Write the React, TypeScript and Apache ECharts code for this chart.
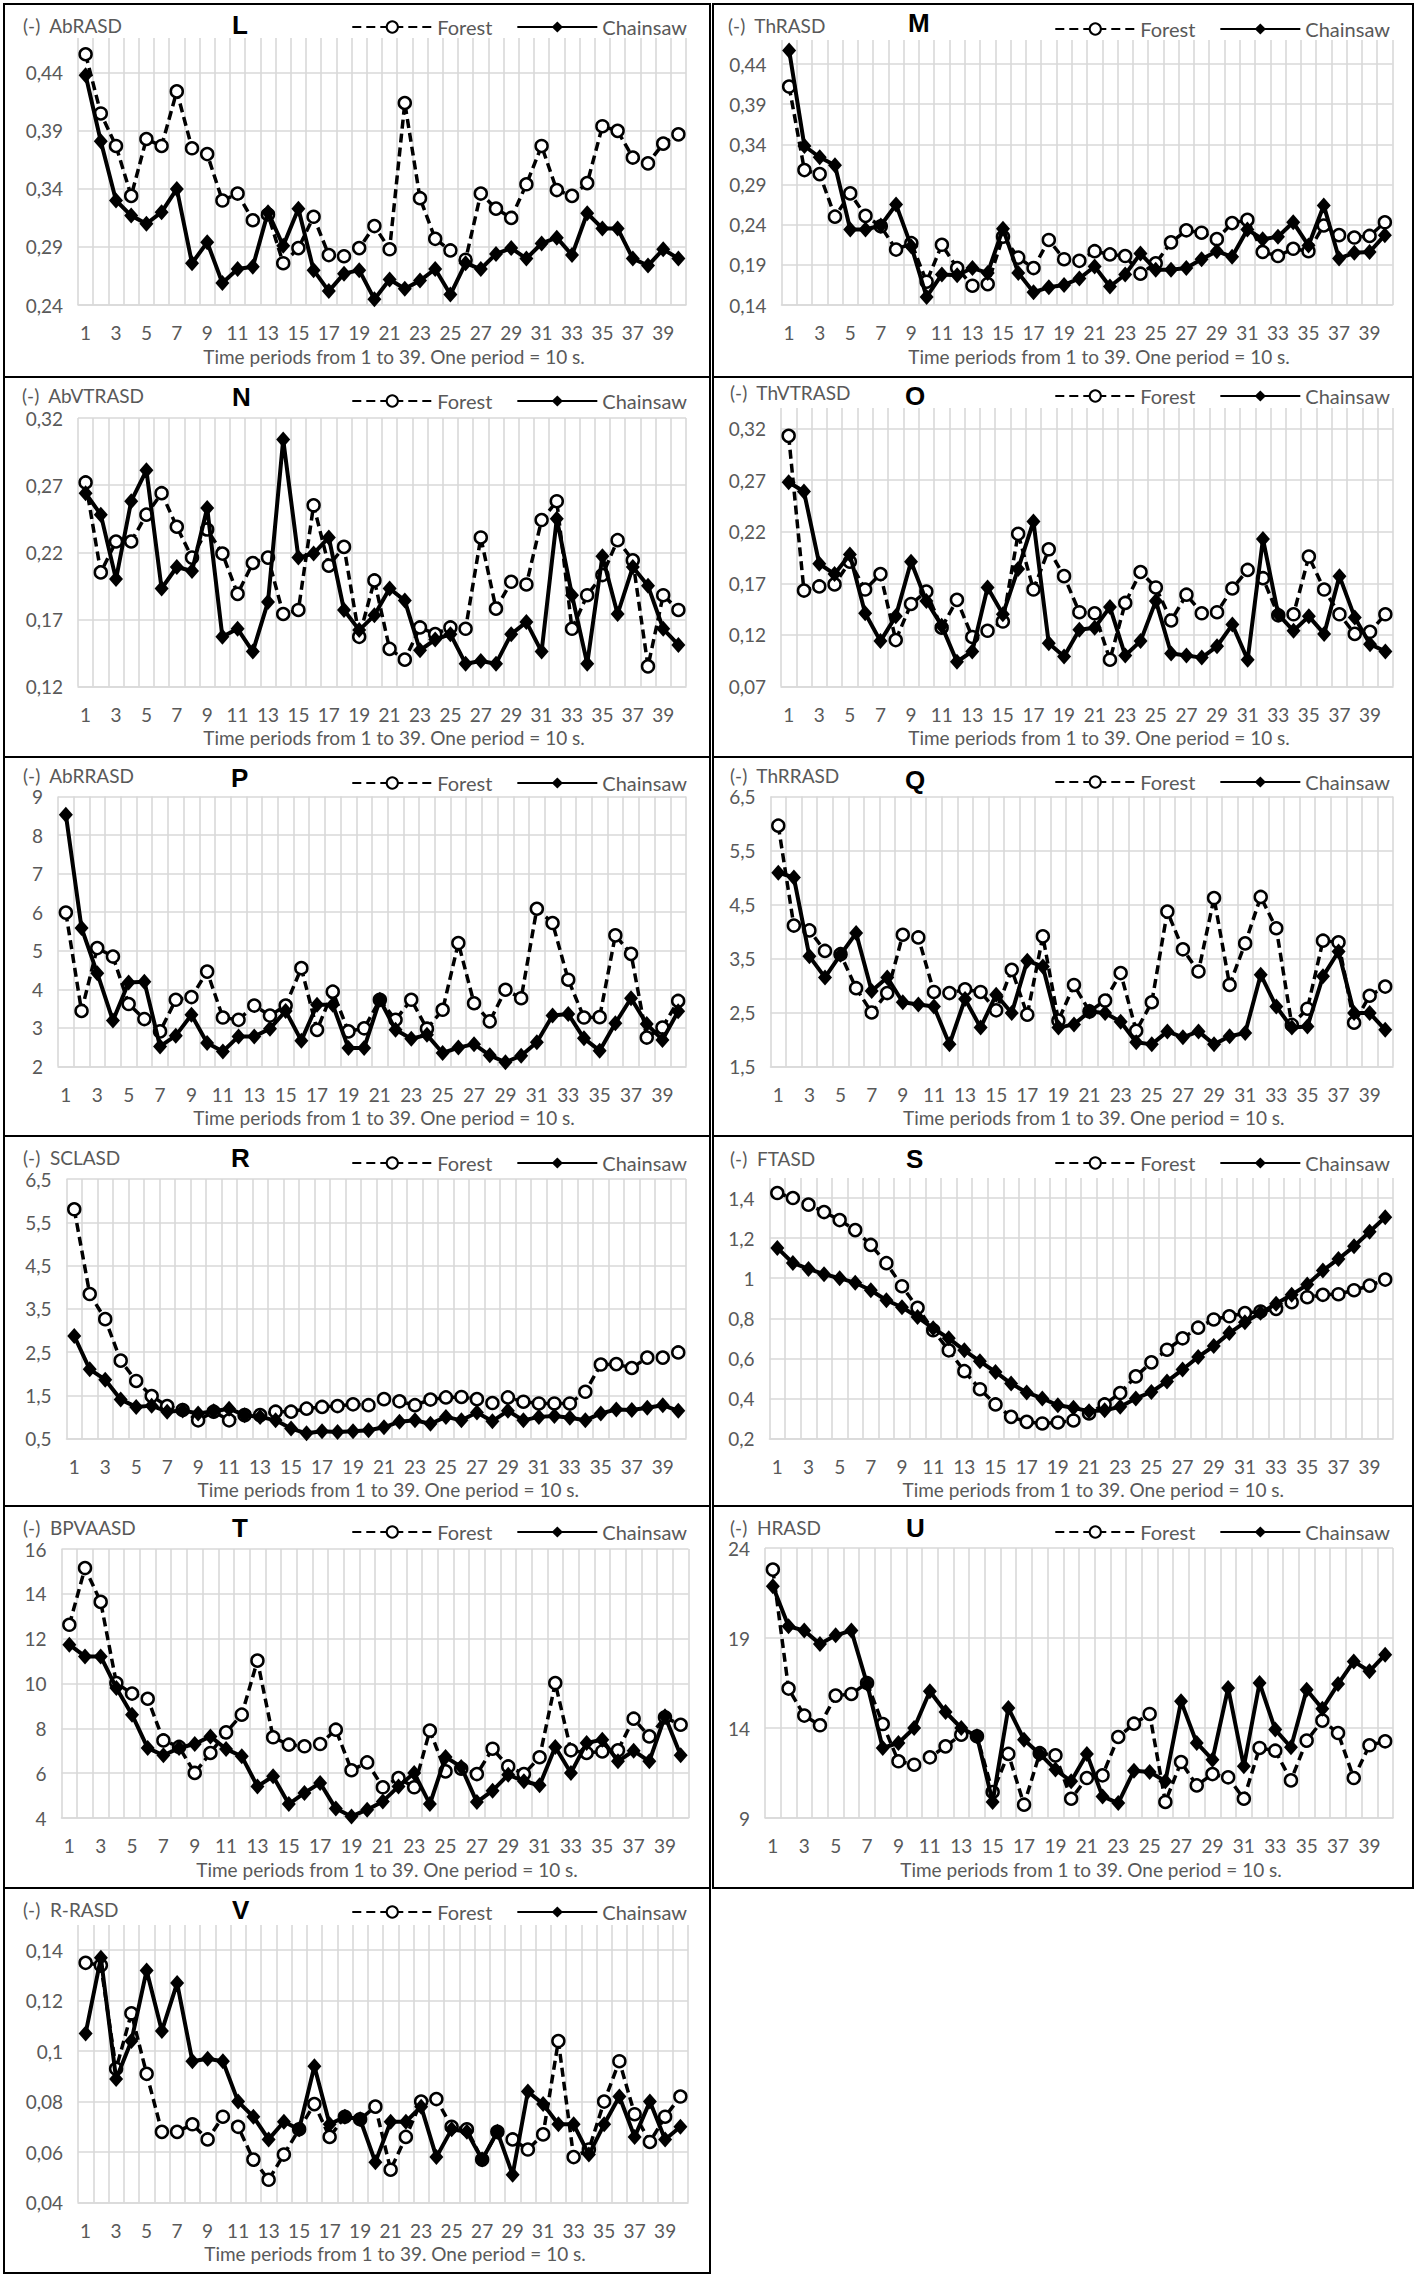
import React, { useEffect, useRef } from "react";
import * as echarts from "echarts";

// ---------- categories ----------
const periods = [
  "1", "2", "3", "4", "5", "6", "7", "8", "9", "10",
  "11", "12", "13", "14", "15", "16", "17", "18", "19", "20",
  "21", "22", "23", "24", "25", "26", "27", "28", "29", "30",
  "31", "32", "33", "34", "35", "36", "37", "38", "39", "40",
];
const seriesNames = ["Forest", "Chainsaw"];
const xAxisTitle = "Time periods from 1 to 39. One period = 10 s.";

// ---------- L: AbRASD ----------
const abrasdForest = [0.456,0.405,0.377,0.334,0.383,0.377,0.424,0.375,0.370,0.330,0.336,0.313,0.318,0.276,0.289,0.316,0.283,0.282,0.289,0.308,0.288,0.414,0.332,0.297,0.287,0.279,0.336,0.323,0.315,0.344,0.377,0.339,0.334,0.345,0.394,0.390,0.367,0.362,0.379,0.387];
const abrasdChainsaw = [0.438,0.381,0.330,0.317,0.310,0.320,0.340,0.276,0.294,0.259,0.271,0.273,0.320,0.291,0.323,0.270,0.252,0.267,0.270,0.245,0.262,0.254,0.261,0.271,0.249,0.276,0.271,0.284,0.289,0.280,0.293,0.298,0.283,0.319,0.306,0.306,0.280,0.274,0.288,0.280];

// ---------- M: ThRASD ----------
const thrasdForest = [0.412,0.308,0.303,0.250,0.279,0.251,0.238,0.209,0.217,0.169,0.215,0.186,0.164,0.166,0.225,0.199,0.186,0.221,0.197,0.195,0.207,0.203,0.201,0.179,0.192,0.218,0.233,0.230,0.222,0.242,0.246,0.206,0.201,0.210,0.207,0.239,0.227,0.224,0.226,0.243];
const thrasdChainsaw = [0.457,0.338,0.324,0.314,0.234,0.234,0.239,0.265,0.213,0.150,0.178,0.177,0.186,0.180,0.235,0.180,0.156,0.162,0.165,0.173,0.188,0.163,0.178,0.204,0.184,0.184,0.186,0.197,0.207,0.200,0.234,0.222,0.225,0.243,0.214,0.264,0.198,0.205,0.206,0.227];

// ---------- N: AbVTRASD ----------
const abvtrasdForest = [0.272,0.205,0.228,0.228,0.248,0.264,0.239,0.216,0.237,0.219,0.189,0.212,0.216,0.174,0.177,0.255,0.210,0.224,0.157,0.199,0.148,0.140,0.164,0.159,0.164,0.163,0.231,0.178,0.198,0.196,0.244,0.258,0.163,0.188,0.203,0.229,0.214,0.135,0.188,0.177];
const abvtrasdChainsaw = [0.264,0.248,0.200,0.258,0.281,0.193,0.209,0.206,0.253,0.157,0.163,0.146,0.183,0.304,0.216,0.219,0.231,0.177,0.162,0.173,0.193,0.184,0.147,0.155,0.159,0.137,0.139,0.137,0.159,0.168,0.146,0.245,0.188,0.137,0.217,0.174,0.209,0.195,0.163,0.151];

// ---------- O: ThVTRASD ----------
const thvtrasdForest = [0.313,0.163,0.167,0.169,0.191,0.164,0.179,0.115,0.150,0.162,0.127,0.154,0.118,0.124,0.133,0.218,0.164,0.203,0.177,0.142,0.141,0.096,0.151,0.181,0.166,0.134,0.159,0.141,0.142,0.165,0.183,0.175,0.139,0.140,0.196,0.164,0.140,0.121,0.123,0.140];
const thvtrasdChainsaw = [0.268,0.259,0.189,0.179,0.198,0.141,0.114,0.138,0.191,0.153,0.129,0.094,0.104,0.166,0.140,0.184,0.230,0.112,0.099,0.125,0.127,0.147,0.100,0.114,0.153,0.102,0.100,0.098,0.109,0.130,0.096,0.213,0.140,0.124,0.138,0.121,0.177,0.137,0.111,0.104];

// ---------- P: AbRRASD ----------
const abrrasdForest = [5.99,3.44,5.07,4.85,3.62,3.23,2.91,3.73,3.80,4.46,3.27,3.21,3.58,3.32,3.58,4.55,2.95,3.94,2.91,2.99,3.73,3.21,3.73,2.98,3.47,5.20,3.64,3.17,3.99,3.77,6.09,5.72,4.25,3.27,3.28,5.40,4.92,2.75,3.01,3.70];
const abrrasdChainsaw = [8.53,5.59,4.42,3.19,4.18,4.20,2.52,2.80,3.34,2.61,2.39,2.78,2.78,2.98,3.44,2.67,3.60,3.60,2.48,2.48,3.73,2.95,2.72,2.82,2.35,2.49,2.58,2.29,2.11,2.28,2.63,3.32,3.36,2.73,2.41,3.12,3.77,3.10,2.69,3.43];

// ---------- Q: ThRRASD ----------
const thrrasdForest = [5.96,4.11,4.02,3.64,3.58,2.95,2.50,2.86,3.94,3.89,2.88,2.86,2.93,2.88,2.54,3.29,2.46,3.91,2.35,3.01,2.52,2.72,3.23,2.16,2.69,4.37,3.67,3.26,4.62,3.01,3.78,4.64,4.06,2.27,2.57,3.83,3.80,2.31,2.81,2.98];
const thrrasdChainsaw = [5.09,5.00,3.54,3.15,3.57,3.97,2.90,3.15,2.69,2.65,2.61,1.91,2.75,2.22,2.83,2.49,3.46,3.35,2.22,2.28,2.52,2.49,2.33,1.95,1.91,2.15,2.04,2.15,1.91,2.06,2.12,3.20,2.61,2.22,2.24,3.17,3.63,2.49,2.49,2.18];

// ---------- R: SCLASD ----------
const sclasdForest = [5.80,3.84,3.26,2.30,1.83,1.48,1.25,1.16,0.92,1.12,0.92,1.04,1.04,1.12,1.12,1.19,1.23,1.25,1.29,1.27,1.41,1.36,1.27,1.40,1.45,1.46,1.41,1.32,1.45,1.35,1.31,1.31,1.31,1.58,2.21,2.22,2.13,2.37,2.37,2.49];
const sclasdChainsaw = [2.87,2.10,1.86,1.40,1.23,1.26,1.12,1.15,1.08,1.13,1.19,1.04,1.00,0.92,0.73,0.62,0.67,0.65,0.67,0.69,0.76,0.89,0.92,0.84,1.00,0.92,1.10,0.90,1.14,0.92,1.00,1.02,0.98,0.92,1.08,1.17,1.16,1.21,1.27,1.14];

// ---------- S: FTASD ----------
const ftasdForest = [1.425,1.400,1.367,1.330,1.290,1.240,1.166,1.075,0.960,0.852,0.740,0.640,0.536,0.446,0.370,0.308,0.283,0.275,0.280,0.290,0.325,0.370,0.427,0.510,0.580,0.643,0.700,0.753,0.794,0.810,0.826,0.834,0.847,0.880,0.905,0.917,0.920,0.940,0.963,0.993];
const ftasdChainsaw = [1.151,1.076,1.046,1.020,1.000,0.977,0.940,0.890,0.855,0.806,0.750,0.700,0.640,0.585,0.532,0.474,0.430,0.400,0.366,0.353,0.336,0.341,0.358,0.400,0.432,0.485,0.544,0.607,0.661,0.726,0.780,0.827,0.872,0.917,0.968,1.038,1.096,1.159,1.232,1.304];

// ---------- T: BPVAASD ----------
const bpvaasdForest = [12.62,15.15,13.64,10.02,9.55,9.32,7.46,7.17,6.01,6.90,7.82,8.61,11.02,7.60,7.27,7.20,7.30,7.94,6.13,6.48,5.37,5.78,5.37,7.90,6.08,6.20,5.96,7.09,6.30,5.96,6.71,10.02,7.02,6.90,6.97,7.02,8.43,7.64,8.49,8.16];
const bpvaasdChainsaw = [11.73,11.21,11.21,9.80,8.61,7.12,6.80,7.12,7.30,7.64,7.08,6.75,5.41,5.86,4.62,5.12,5.56,4.42,4.07,4.37,4.74,5.41,6.01,4.62,6.72,6.28,4.71,5.22,5.93,5.64,5.46,7.17,6.01,7.35,7.49,6.53,7.00,6.53,8.54,6.80];

// ---------- U: HRASD ----------
const hrasdForest = [22.80,16.19,14.69,14.15,15.80,15.89,16.50,14.22,12.15,11.96,12.37,12.98,13.63,13.54,10.44,12.56,9.74,12.60,12.48,10.07,11.22,11.37,13.50,14.24,14.78,9.89,12.11,10.81,11.44,11.26,10.07,12.89,12.74,11.09,13.30,14.41,13.72,11.22,13.04,13.26];
const hrasdChainsaw = [21.87,19.65,19.41,18.67,19.15,19.41,16.46,12.89,13.17,14.00,16.04,14.89,14.00,13.54,9.89,15.11,13.35,12.56,11.69,11.04,12.56,10.20,9.83,11.63,11.56,11.04,15.48,13.17,12.24,16.22,11.87,16.50,13.91,12.93,16.13,15.07,16.44,17.70,17.15,18.07];

// ---------- V: R-RASD ----------
const rrasdForest = [0.135,0.134,0.093,0.115,0.091,0.068,0.068,0.071,0.065,0.074,0.070,0.057,0.049,0.059,0.069,0.079,0.066,0.074,0.073,0.078,0.053,0.066,0.080,0.081,0.070,0.069,0.057,0.068,0.065,0.061,0.067,0.104,0.058,0.061,0.080,0.096,0.075,0.064,0.074,0.082];
const rrasdChainsaw = [0.107,0.137,0.089,0.104,0.132,0.108,0.127,0.096,0.097,0.096,0.080,0.074,0.065,0.072,0.069,0.094,0.071,0.074,0.073,0.056,0.072,0.072,0.078,0.058,0.069,0.068,0.057,0.068,0.051,0.084,0.079,0.071,0.071,0.059,0.071,0.082,0.066,0.080,0.065,0.070];

// ---------- layout ----------
const rowTops = [3, 376, 756, 1135, 1505, 1887];
const rowHeights = [375, 382, 381, 372, 384, 387];
const colLefts = [3, 712];
const colWidths = [708, 702];

type PanelDef = {
  id: string;
  name: string;
  forest: number[];
  chainsaw: number[];
  min: number;
  max: number;
  interval: number;
  maxIsTick: boolean;
  row: number;
  col: number;
  grid: [number, number, number, number]; // left, top, width, height
  nameX: number;
  nameY: number;
  letterX: number;
  letterY: number;
  legendY: number;
};

const panels: PanelDef[] = [
  { id: "L", name: "(-)  AbRASD", forest: abrasdForest, chainsaw: abrasdChainsaw, min: 0.24, max: 0.47, interval: 0.05, maxIsTick: false, row: 0, col: 0, grid: [73, 33, 608, 267], nameX: 18, nameY: 20, letterX: 227, letterY: 20, legendY: 19 },
  { id: "M", name: "(-)  ThRASD", forest: thrasdForest, chainsaw: thrasdChainsaw, min: 0.14, max: 0.47, interval: 0.05, maxIsTick: false, row: 0, col: 1, grid: [67.5, 35, 611, 265], nameX: 14, nameY: 20, letterX: 194, letterY: 18, legendY: 21 },
  { id: "N", name: "(-)  AbVTRASD", forest: abvtrasdForest, chainsaw: abvtrasdChainsaw, min: 0.12, max: 0.32, interval: 0.05, maxIsTick: true, row: 1, col: 0, grid: [73, 40, 608, 268.5], nameX: 17, nameY: 17, letterX: 227, letterY: 19, legendY: 20 },
  { id: "O", name: "(-)  ThVTRASD", forest: thvtrasdForest, chainsaw: thvtrasdChainsaw, min: 0.07, max: 0.34, interval: 0.05, maxIsTick: false, row: 1, col: 1, grid: [67, 30, 612, 278.5], nameX: 16, nameY: 14, letterX: 191, letterY: 18, legendY: 15 },
  { id: "P", name: "(-)  AbRRASD", forest: abrrasdForest, chainsaw: abrrasdChainsaw, min: 2, max: 9, interval: 1, maxIsTick: true, row: 2, col: 0, grid: [53, 38.5, 628, 270], nameX: 18, nameY: 17, letterX: 226, letterY: 20, legendY: 22 },
  { id: "Q", name: "(-)  ThRRASD", forest: thrrasdForest, chainsaw: thrrasdChainsaw, min: 1.5, max: 6.5, interval: 1, maxIsTick: true, row: 2, col: 1, grid: [56.5, 38.5, 622.5, 270], nameX: 16, nameY: 17, letterX: 191, letterY: 22, legendY: 21 },
  { id: "R", name: "(-)  SCLASD", forest: sclasdForest, chainsaw: sclasdChainsaw, min: 0.5, max: 6.5, interval: 1, maxIsTick: true, row: 3, col: 0, grid: [61.5, 42, 619.5, 259.5], nameX: 18, nameY: 20, letterX: 226, letterY: 21, legendY: 23 },
  { id: "S", name: "(-)  FTASD", forest: ftasdForest, chainsaw: ftasdChainsaw, min: 0.2, max: 1.5, interval: 0.2, maxIsTick: false, row: 3, col: 1, grid: [55.5, 41, 623.5, 260.5], nameX: 16, nameY: 21, letterX: 192, letterY: 22, legendY: 23 },
  { id: "T", name: "(-)  BPVAASD", forest: bpvaasdForest, chainsaw: bpvaasdChainsaw, min: 4, max: 16, interval: 2, maxIsTick: true, row: 4, col: 0, grid: [56.5, 42, 627, 269], nameX: 18, nameY: 20, letterX: 227, letterY: 21, legendY: 22 },
  { id: "U", name: "(-)  HRASD", forest: hrasdForest, chainsaw: hrasdChainsaw, min: 9, max: 24, interval: 5, maxIsTick: true, row: 4, col: 1, grid: [51, 41, 628, 270], nameX: 16, nameY: 20, letterX: 192, letterY: 21, legendY: 22 },
  { id: "V", name: "(-)  R-RASD", forest: rrasdForest, chainsaw: rrasdChainsaw, min: 0.04, max: 0.15, interval: 0.02, maxIsTick: false, row: 5, col: 0, grid: [73, 36, 610, 277.5], nameX: 18, nameY: 20, letterX: 227, letterY: 21, legendY: 20 },
];

const FONT = "Lato, 'Noto Sans', sans-serif";
const GRAY = "#595959";
const GRID_COLOR = "#d9d9d9";

function fmt(v: number): string {
  const r = parseFloat(v.toFixed(4));
  return String(r).replace(".", ",");
}

function buildOption(p: PanelDef) {
  const [gl, gt, gw, gh] = p.grid;
  return {
    animation: false,
    backgroundColor: "#ffffff",
    textStyle: { fontFamily: FONT },
    title: [
      {
        text: p.name,
        left: p.nameX,
        top: p.nameY - 10,
        padding: 0,
        textStyle: { fontFamily: FONT, fontSize: 19, fontWeight: "normal", color: GRAY, lineHeight: 20 },
      },
      {
        text: p.id,
        left: p.letterX,
        top: p.letterY - 14,
        padding: 0,
        textStyle: { fontFamily: "'Liberation Sans', Arial, sans-serif", fontSize: 26, fontWeight: "bold", color: "#000", lineHeight: 28 },
      },
    ],
    legend: {
      data: seriesNames,
      right: 22,
      top: p.legendY - 7,
      padding: 0,
      itemWidth: 80,
      itemHeight: 14,
      itemGap: 24,
      textStyle: { fontFamily: FONT, fontSize: 20, color: GRAY },
    },
    grid: { left: gl, top: gt, width: gw, height: gh, containLabel: false },
    xAxis: {
      type: "category",
      data: periods,
      boundaryGap: true,
      axisLine: { show: true, lineStyle: { color: GRID_COLOR, width: 1.6 } },
      axisTick: { show: false },
      splitLine: { show: true, interval: 0, lineStyle: { color: GRID_COLOR, width: 1.6 } },
      axisLabel: { interval: 1, color: GRAY, fontSize: 19, fontFamily: FONT, margin: 18 },
      name: xAxisTitle,
      nameLocation: "middle",
      nameGap: 40,
      nameTextStyle: { fontFamily: FONT, fontSize: 19, color: GRAY, padding: [0, 0, 0, 24] },
    },
    yAxis: {
      type: "value",
      min: p.min,
      max: p.max,
      interval: p.interval,
      axisLine: { show: false },
      axisTick: { show: false },
      splitLine: {
        show: true,
        showMaxLine: p.maxIsTick,
        lineStyle: { color: GRID_COLOR, width: 1.6 },
      },
      axisLabel: {
        color: GRAY,
        fontSize: 19,
        lineHeight: 19,
        fontFamily: FONT,
        margin: 15,
        showMaxLabel: p.maxIsTick,
        formatter: (v: number) => fmt(v),
      },
    },
    series: [
      {
        name: seriesNames[0],
        type: "line",
        data: p.forest,
        symbol: "circle",
        symbolSize: 12,
        showAllSymbol: true,
        lineStyle: { color: "#000", width: 3.5, type: [9, 5] },
        itemStyle: { color: "#ffffff", borderColor: "#000", borderWidth: 2.5 },
        z: 2,
      },
      {
        name: seriesNames[1],
        type: "line",
        data: p.chainsaw,
        symbol: "diamond",
        symbolSize: [14, 16],
        showAllSymbol: true,
        lineStyle: { color: "#000", width: 4, type: "solid" },
        itemStyle: { color: "#000", borderColor: "#000", borderWidth: 0 },
        z: 3,
      },
    ],
  };
}

function Panel({ p }: { p: PanelDef }) {
  const ref = useRef<HTMLDivElement | null>(null);
  useEffect(() => {
    if (!ref.current) return;
    const chart = echarts.init(ref.current, undefined, { renderer: "svg" });
    chart.setOption(buildOption(p) as any);
    return () => chart.dispose();
  }, [p]);
  const left = colLefts[p.col];
  const width = colWidths[p.col];
  const top = rowTops[p.row];
  const height = rowHeights[p.row];
  return (
    <div
      style={{
        position: "absolute",
        left,
        top,
        width,
        height,
        boxSizing: "border-box",
        border: "2px solid #000",
        background: "#fff",
      }}
    >
      <div ref={ref} style={{ position: "absolute", left: 0, top: 0, width: width - 4, height: height - 4 }} />
    </div>
  );
}

export default function App() {
  return (
    <div
      style={{
        position: "absolute",
        left: 0,
        top: 0,
        width: 1421,
        height: 2279,
        background: "#ffffff",
        overflow: "hidden",
      }}
    >
      {panels.map((p) => (
        <Panel key={p.id} p={p} />
      ))}
    </div>
  );
}
